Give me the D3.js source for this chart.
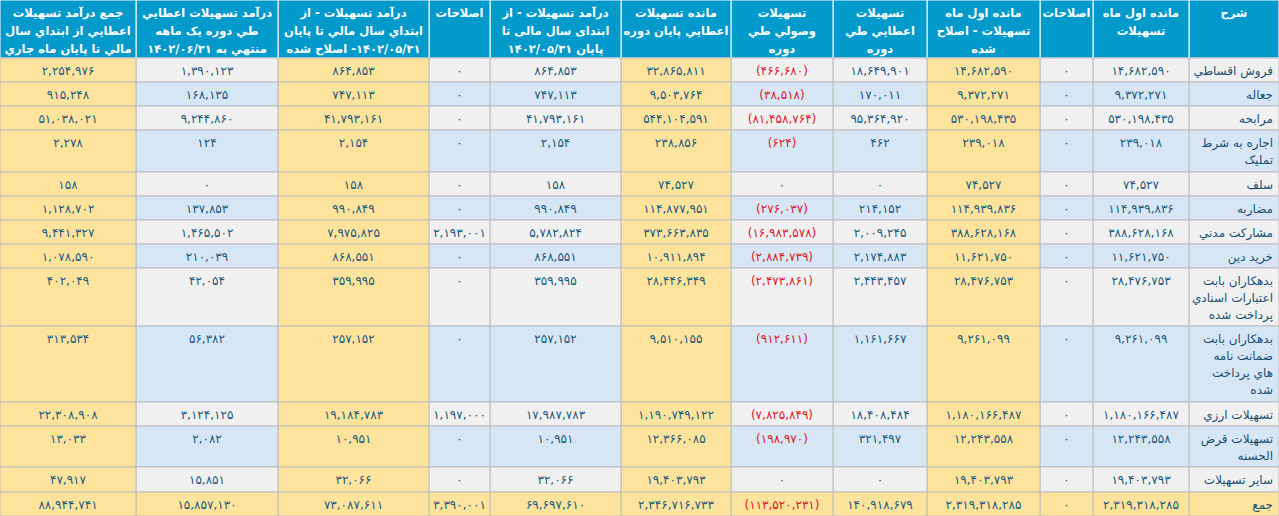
<!DOCTYPE html><html><head><meta charset="utf-8"><script src="https://cdn.jsdelivr.net/npm/d3@7"></script>
<style>body{margin:0;background:#fff}svg{display:block}</style></head><body><svg id="c" width="1279" height="516"></svg><script>
const headers=[
["شرح"],["مانده اول ماه","تسهیلات"],["اصلاحات"],["مانده اول ماه","تسهیلات - اصلاح","شده"],["تسهیلات","اعطایي طي","دوره"],["تسهیلات","وصولي طي","دوره"],["مانده تسهیلات","اعطایي پایان دوره"],["درآمد تسهیلات - از","ابتدای سال مالی تا","پایان ۱۴۰۲/۰۵/۳۱"],["اصلاحات"],["درآمد تسهیلات - از","ابتداي سال مالي تا پایان","۱۴۰۲/۰۵/۳۱- اصلاح شده"],["درآمد تسهیلات اعطایي","طي دوره یک ماهه","منتهي به ۱۴۰۲/۰۶/۳۱"],["جمع درآمد تسهیلات","اعطایي از ابتداي سال","مالي تا پایان ماه جاري"]];
const categories=[["فروش اقساطي"],["جعاله"],["مرابحه"],["اجاره به شرط","تملیک"],["سلف"],["مضاربه"],["مشارکت مدني"],["خرید دین"],["بدهکاران بابت","اعتبارات اسنادي","پرداخت شده"],["بدهکاران بابت","ضمانت نامه","هاي پرداخت","شده"],["تسهیلات ارزي"],["تسهیلات قرض","الحسنه"],["سایر تسهیلات"],["جمع"]];
const openBal=[14682590,9372271,530198435,239018,74527,114939836,388628168,11621750,28476753,9261099,1180166487,12243558,19403793,2319318285];
const adj1=[0,0,0,0,0,0,0,0,0,0,0,0,0,0];
const openAdj=[14682590,9372271,530198435,239018,74527,114939836,388628168,11621750,28476753,9261099,1180166487,12243558,19403793,2319318285];
const granted=[18649901,170011,95364920,462,0,214152,2009245,2174883,2443457,1161667,18408484,321497,0,140918679];
const collected=[-466680,-38518,-81458764,-624,0,-276037,-16983578,-2884739,-2473861,-912611,-7825849,-198970,0,-113520231];
const closeBal=[32865811,9503764,544104591,238856,74527,114877951,373663835,10911894,28446349,9510155,1190749122,12366085,19403793,2346716733];
const income=[864853,747113,41793161,2154,158,990849,5782824,868551,359995,257152,17987783,10951,32066,69697610];
const adj2=[0,0,0,0,0,0,2193001,0,0,0,1197000,0,0,3390001];
const incomeAdj=[864853,747113,41793161,2154,158,990849,7975825,868551,359995,257152,19184783,10951,32066,73087611];
const monthIncome=[1390123,168135,9244860,124,0,137853,1465502,210039,42054,56382,3124125,2082,15851,15857130];
const totalIncome=[2254976,915248,51038021,2278,158,1128702,9441327,1078590,402049,313534,22308908,13033,47917,88944741];
const cols=[null,openBal,adj1,openAdj,granted,collected,closeBal,income,adj2,incomeAdj,monthIncome,totalIncome];
const colX=[1189,1093,1040,927,833,731,621,490,429,278,136,0,];
const colR=[1279,1189,1093,1040,927,833,731,621,490,429,278,136];
const rowY=[58,82,106,130,172,196,220,244,268,326,402,426,467,492,516];
const yellowCols=new Set([3,6,9,11]);
const fa=d=>String(d).replace(/\d/g,c=>"۰۱۲۳۴۵۶۷۸۹"[c]);
const fmt=v=>{const s=fa(d3.format(",")(Math.abs(v)));return v<0?"("+s+")":s;};
const svg=d3.select("#c");const F="Tahoma, 'DejaVu Sans', sans-serif";
headers.forEach((h,i)=>{const x=colX[i],w=colR[i]-x;
 svg.append("rect").attr("x",x).attr("y",0).attr("width",w).attr("height",rowY[0]).attr("fill","#0299cb").attr("stroke","#fff").attr("stroke-width",1);
 h.forEach((t,j)=>svg.append("text").attr("x",x+w/2).attr("y",17+j*18).attr("text-anchor","middle").attr("direction","rtl").attr("fill","#fff").attr("font-family",F).attr("font-size",11.5).attr("font-weight","bold").text(t));});
categories.forEach((cat,r)=>{const y=rowY[r],hgt=rowY[r+1]-y,last=r===categories.length-1;
 const base=r%2===0?"#f0f0f0":"#d6e6f5";
 cols.forEach((col,i)=>{const x=colX[i],w=colR[i]-x;
  const fill=(last||yellowCols.has(i))?"#fee39d":base;
  svg.append("rect").attr("x",x).attr("y",y).attr("width",w).attr("height",hgt).attr("fill",fill).attr("stroke","#bdbdbd").attr("stroke-width",1);
  if(i===0){cat.forEach((t,j)=>svg.append("text").attr("x",colR[i]-6).attr("y",y+17+j*17).attr("text-anchor","start").attr("direction","rtl").attr("fill","#1b4f72").attr("font-family",F).attr("font-size",12).text(t));}
  else{const v=col[r];svg.append("text").attr("x",x+w/2).attr("y",y+17).attr("text-anchor","middle").attr("fill",v<0?"#e0182a":"#1b5a80").attr("font-family",F).attr("font-size",12).text(fmt(v));}
 });});
</script></body></html>
